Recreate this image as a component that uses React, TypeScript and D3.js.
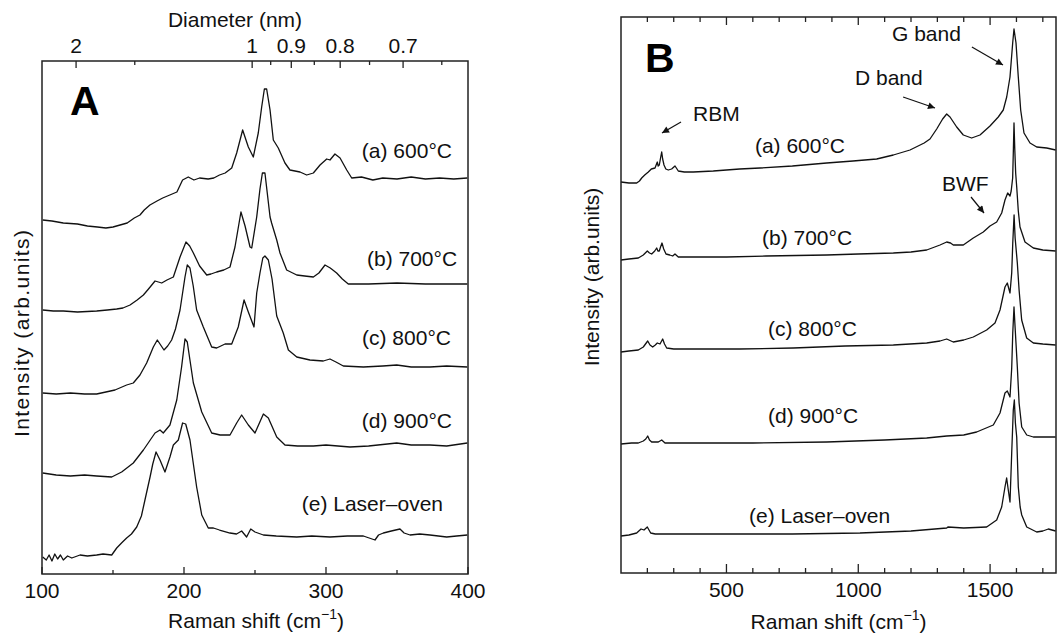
import React from 'react';
import * as d3 from 'd3';

type P = [number, number];

// ---------- Panel A : low-frequency Raman (RBM) spectra, [shift cm-1, intensity arb.] ----------
const specA600: P[] = [[100.5,354],[107,353],[115,351],[125,350],[132,348],[139,347],[145,346],[150,347],[155,349],[160,351],[165,356],[169,359],[172,364],[176,369],[181,373],[185,376],[190,379],[195,382],[199,394],[203,397],[207,394],[211,396],[217,395],[221,396],[225,399],[229,401],[233.6,406],[237.1,421],[241.3,444],[245.3,427],[248.8,417],[252.3,441],[254.7,467],[256.6,485],[258.2,485],[260.6,464],[262.9,434],[266.4,426],[271.1,411],[274.6,404],[281.7,402],[286.4,399],[291.1,401],[295.8,409],[300.5,415],[302.8,414],[306.3,420],[309.9,416],[314.6,404],[318.1,396],[325,397],[333,394],[340,396],[350,395],[360,397],[370,395],[380,396],[390,395],[399.5,396]];
const specA700: P[] = [[100.5,264],[108,263],[115,263],[125,262],[138.5,263],[146,264],[152.6,265],[157,266],[162,269],[167,274],[171.4,279],[175,285],[179.6,293],[184.3,291],[188,294],[192.5,297],[197.2,317],[201.4,332],[204,328],[206.6,321],[211,308],[216,299],[219,300],[223,302],[228,304],[232.4,307],[235.9,327],[240.1,362],[243,348],[246.5,327],[247.7,326],[251.2,357],[253.5,385],[255.2,401],[257,401],[260.6,357],[261.7,351],[265.3,334],[267.6,321],[272.3,304],[279.4,299],[285,298],[291.1,297],[295,301],[299.3,309],[303,306],[307.5,301],[311.5,295],[315.7,290],[330,290],[350,291],[370,290],[399.5,290]];
const specA800: P[] = [[100.5,181],[110,180],[120,181],[130,180],[138.5,180],[145,182],[151.4,184],[159.6,189],[164.3,191],[169,199],[173.7,211],[178.4,227],[181.2,234],[185.9,224],[188.5,228],[191.3,234],[194,245],[197.2,264],[200.7,297],[202.3,309],[204.2,306],[206.5,288],[208.9,264],[213.6,247],[219.5,227],[223,226],[228.9,230],[233.6,230],[238.2,247],[242.3,274],[245.3,262],[249.3,247],[251.2,281],[253.5,301],[255.5,316],[257,318],[259.4,314],[262,295],[265.3,258],[269.9,241],[273.5,224],[279.4,217],[288.7,214],[298.1,213],[302.8,215],[307,212],[312.2,208],[326.3,207],[340,208],[349.8,209],[360,207],[373.2,207],[385,208],[399.5,207]];
const specA900: P[] = [[100.5,101],[110,99],[120,98],[130,99],[138.5,98],[149.1,97],[156.1,102],[164.3,111],[171.4,124],[179.6,141],[183.1,144],[185.4,141],[190.1,149],[194.9,174],[198.3,207],[200.7,235],[202.3,232],[206.6,191],[212.5,162],[219.5,141],[225.4,139],[232.4,139],[237.1,151],[240.6,159],[245.3,149],[250,141],[255.9,160],[259.4,156],[265.3,137],[271.1,129],[280,128],[291.1,128],[300,129],[316.9,127],[330,128],[349.8,131],[360,129],[373.2,129],[385,128],[399.5,131]];
const specALaser: P[] = [[100.5,17],[103,14],[105,19],[107,13],[109,20],[111,15],[113,19],[115,14],[118,18],[121,16],[126.8,19],[132,18],[138.5,19],[143,20],[149.1,19],[152.6,26],[156,31],[159.6,36],[163,40],[166.7,47],[170,58],[172.5,74],[176.1,97],[178,110],[180.3,122],[183.1,114],[186.6,102],[190.1,117],[192.5,129],[196,134],[199,151],[201.2,150],[204.2,134],[208.9,87],[212.5,59],[217.1,46],[220.7,46],[225,44],[232.4,41],[237,40],[240.6,43],[244.1,37],[247,45],[250,42],[255.9,39],[265,38],[279.4,37],[290,38],[302.8,37],[315,38],[326.3,38],[334.5,34],[337,39],[340.4,41],[346,43],[352.1,45],[355,41],[359.2,39],[366,40],[373.2,39],[385,37],[392,38],[399.5,39]];

// ---------- Panel B : full Raman spectra ----------
const specB600: P[] = [[100,391],[130,390],[159.5,390],[170,392],[178.5,395],[190,398],[203.6,401],[215,404],[229,405],[237.7,411],[241,407],[245.3,408],[250,415],[254.4,421],[258,414],[263.1,408],[270,404],[279.4,403],[292,404],[304.8,407],[310,405],[317.3,402],[340,401],[374.2,401],[450,402],[550,404],[627.2,405],[750,407],[880.2,410],[980,412],[1069.9,414],[1133,418],[1196.2,423],[1250,430],[1272,434],[1297.5,444],[1320,454],[1335.4,459],[1348,456],[1373.3,446],[1398.4,438],[1430,435],[1461.7,438],[1499.6,447],[1531,456],[1550,463],[1563,476],[1575.5,496],[1585.7,530],[1590.7,544],[1598.3,530],[1607,496],[1616,463],[1628.6,440],[1651.4,430],[1676.8,426],[1714.7,425],[1748.8,423]];
const specB700: P[] = [[100,313],[130,314],[165.7,315],[184.6,318],[199.8,322],[208,320],[216.4,319],[228,322],[235.4,325],[240,322],[245.3,322],[250,326],[255.5,330],[262,324],[270.7,319],[285,318],[296.1,317],[304.8,319],[317.3,316],[400,316],[500.9,316],[650,317],[880.2,318],[1000,319],[1133,320],[1200,321],[1259.5,323],[1290,326],[1310,328],[1335.4,331],[1350,330],[1360.4,328],[1398.4,328],[1436.3,335],[1474.2,341],[1499.6,347],[1525,351],[1544,360],[1556.5,373],[1566.7,380],[1575.5,377],[1580,382],[1585.6,395],[1588.5,425],[1590.7,450],[1593.5,425],[1597,400],[1601,386],[1607,362],[1613.4,346],[1632.4,331],[1664,325],[1700,323],[1748.8,322]];
const specB800: P[] = [[100,221],[130,222],[165.7,223],[184.6,226],[201.3,232],[210,228],[220.2,226],[230,228],[237.7,230],[247.9,229],[258.1,234],[265,229],[273.3,225],[300,224],[374.2,224],[550,224],[753.6,225],[950,227],[1133,228],[1259.5,230],[1310,232],[1335.4,234],[1360.4,231],[1400,233],[1436.3,236],[1487,243],[1518.6,250],[1537.6,263],[1556.5,286],[1565.3,290],[1575.5,280],[1582,300],[1586,330],[1591,358],[1595,335],[1603.3,310],[1610,283],[1619.8,253],[1638.8,235],[1664,230],[1700,229],[1748.8,228]];
const specB900: P[] = [[100,129],[140,130],[165.7,130],[184.6,132],[194,134],[201.3,137],[208,133],[216.4,131],[241.5,131],[254.4,133],[266.9,130],[374.2,130],[600,130],[880.2,131],[1100,133],[1259.5,135],[1335.4,137],[1400,138],[1449,141],[1512.2,148],[1537.6,160],[1556.5,180],[1565.3,182],[1575.5,176],[1582,205],[1586,240],[1590.7,266],[1595,245],[1603.3,206],[1610,170],[1620,146],[1639,138],[1664,136],[1748.8,136]];
const specBLaser: P[] = [[100,37],[130,38],[159.5,40],[176,44],[187.2,43],[199.8,46],[212.6,40],[230,39],[247.9,39],[500.9,39],[750,39],[1006.5,40],[1200,42],[1335.4,45],[1340,46],[1400,45],[1487,46],[1525,53],[1544,66],[1556.5,86],[1562.8,95],[1569,83],[1575.5,71],[1582,120],[1588,163],[1592,173],[1596,150],[1601,136],[1607,86],[1614,66],[1620,58],[1639,46],[1676.8,41],[1700,42],[1720.9,44],[1748.8,42]];

const spectraA: P[][] = [specA600, specA700, specA800, specA900, specALaser];
const spectraB: P[][] = [specB600, specB700, specB800, specB900, specBLaser];

// sample labels and where they sit (data coordinates)
const sampleLabels = ['(a) 600°C', '(b) 700°C', '(c) 800°C', '(d) 900°C', '(e) Laser–oven'];
const labelAtA: P[] = [[388.7,416],[392.3,308],[388,229],[388.7,146],[382.4,63]];
const labelAtB: P[] = [[608,420],[634.8,328],[657.6,237],[657.6,150],[585.5,50]];

// band annotations in panel B: text, text anchor, arrow from, arrow to
const bandNames = ['G band', 'D band', 'RBM', 'BWF'];
const bandTextAt: P[] = [[1128,532],[987.6,488],[373,452],[1317.6,382]];
const bandArrowFrom: P[] = [[1431,526],[1170,476],[327.6,451],[1427.6,376]];
const bandArrowTo: P[] = [[1549,508],[1291,465],[255.5,440],[1477,360]];

// axes
const ticksAMajor = [100, 200, 300, 400];
const ticksAMinor = [150, 250, 350];
const diamMajor = [2, 1, 0.9, 0.8, 0.7];
const diamMinor = [1.5, 0.95, 0.85, 0.75, 0.65];
const ticksBMajor = [500, 1000, 1500];
const ticksBMinor = [200, 300, 400, 600, 700, 800, 900, 1100, 1200, 1300, 1400, 1600, 1700];
const RBM_CONST = 248; // ω = 248 / d

const FONT = "'Liberation Sans', Arial, Helvetica, sans-serif";
const INK = '#111';

export default function App() {
  const xA = d3.scaleLinear().domain([100, 400]).range([42, 468]);
  const yA = d3.scaleLinear().domain([0, 513]).range([574, 61]);
  const xB = d3.scaleLinear().domain([100, 1750]).range([621, 1056]);
  const yB = d3.scaleLinear().domain([0, 556]).range([573, 17]);
  const lineA = d3.line<P>().x(d => xA(d[0])).y(d => yA(d[1]));
  const lineB = d3.line<P>().x(d => xB(d[0])).y(d => yB(d[1]));

  const [ax0, ax1] = xA.range();
  const [ayB, ayT] = yA.range();
  const [bx0, bx1] = xB.range();
  const [byB, byT] = yB.range();

  return (
    <svg width={1057} height={642} style={{ position: 'fixed', left: 0, top: 0, background: '#fff' }} fontFamily={FONT}>
      <defs>
        <marker id="ah" viewBox="0 0 10 10" refX="10" refY="5" markerWidth="10" markerHeight="7" markerUnits="userSpaceOnUse" orient="auto">
          <path d="M0,0 L10,5 L0,10 z" fill={INK} />
        </marker>
      </defs>
      <rect x={0} y={0} width={1057} height={642} fill="#fff" />

      {/* ---------------- Panel A ---------------- */}
      <g>
        {spectraA.map((s, i) => (
          <path key={i} d={lineA(s) || ''} fill="none" stroke={INK} strokeWidth={1.3} strokeLinejoin="round" />
        ))}
        <rect x={ax0} y={ayT} width={ax1 - ax0} height={ayB - ayT} fill="none" stroke="#222" strokeWidth={1.5} />
        {ticksAMajor.map(t => (
          <g key={'am' + t}>
            <line x1={xA(t)} x2={xA(t)} y1={ayB} y2={ayB - 7} stroke="#222" strokeWidth={1.3} />
            <text x={xA(t)} y={598} fontSize={21} textAnchor="middle" fill={INK}>{t}</text>
          </g>
        ))}
        {ticksAMinor.map(t => (
          <line key={'an' + t} x1={xA(t)} x2={xA(t)} y1={ayB} y2={ayB - 4} stroke="#222" strokeWidth={1.3} />
        ))}
        {diamMajor.map(d => (
          <g key={'dm' + d}>
            <line x1={xA(RBM_CONST / d)} x2={xA(RBM_CONST / d)} y1={ayT} y2={ayT + 7} stroke="#222" strokeWidth={1.3} />
            <text x={xA(RBM_CONST / d)} y={53} fontSize={21} textAnchor="middle" fill={INK}>{d}</text>
          </g>
        ))}
        {diamMinor.map(d => (
          <line key={'dn' + d} x1={xA(RBM_CONST / d)} x2={xA(RBM_CONST / d)} y1={ayT} y2={ayT + 4} stroke="#222" strokeWidth={1.3} />
        ))}
        <text x={235} y={27} fontSize={21} textAnchor="middle" fill={INK}>Diameter (nm)</text>
        <text x={256} y={628} fontSize={21} textAnchor="middle" fill={INK}>
          Raman shift (cm<tspan fontSize={14} dy={-9}>−1</tspan><tspan dy={9}>)</tspan>
        </text>
        <text transform={`translate(29,333.5) rotate(-90)`} fontSize={21} textAnchor="middle" fill={INK} textLength={207} lengthAdjust="spacing">
          Intensity (arb.units)
        </text>
        <text x={70} y={115} fontSize={41} fontWeight="bold" fill="#000">A</text>
        {sampleLabels.map((l, i) => (
          <text key={'la' + i} x={xA(labelAtA[i][0])} y={yA(labelAtA[i][1])} fontSize={21} textAnchor="end" fill={INK}>{l}</text>
        ))}
      </g>

      {/* ---------------- Panel B ---------------- */}
      <g>
        {spectraB.map((s, i) => (
          <path key={i} d={lineB(s) || ''} fill="none" stroke={INK} strokeWidth={1.3} strokeLinejoin="round" />
        ))}
        <rect x={bx0} y={byT} width={bx1 - bx0} height={byB - byT} fill="none" stroke="#222" strokeWidth={1.5} />
        {ticksBMajor.map(t => (
          <g key={'bm' + t}>
            <line x1={xB(t)} x2={xB(t)} y1={byB} y2={byB - 9} stroke="#222" strokeWidth={1.3} />
            <line x1={xB(t)} x2={xB(t)} y1={byT} y2={byT + 8} stroke="#222" strokeWidth={1.3} />
            <text x={xB(t)} y={597} fontSize={21} textAnchor="middle" fill={INK}>{t}</text>
          </g>
        ))}
        {ticksBMinor.map(t => (
          <g key={'bn' + t}>
            <line x1={xB(t)} x2={xB(t)} y1={byB} y2={byB - 5} stroke="#222" strokeWidth={1.3} />
            <line x1={xB(t)} x2={xB(t)} y1={byT} y2={byT + 5} stroke="#222" strokeWidth={1.3} />
          </g>
        ))}
        <text x={(bx0 + bx1) / 2} y={629} fontSize={21} textAnchor="middle" fill={INK}>
          Raman shift (cm<tspan fontSize={14} dy={-9}>−1</tspan><tspan dy={9}>)</tspan>
        </text>
        <text transform={`translate(599,277) rotate(-90)`} fontSize={21} textAnchor="middle" fill={INK}>
          Intensity (arb.units)
        </text>
        <text x={645} y={72} fontSize={41} fontWeight="bold" fill="#000">B</text>
        {sampleLabels.map((l, i) => (
          <text key={'lb' + i} x={xB(labelAtB[i][0])} y={yB(labelAtB[i][1])} fontSize={21} fill={INK}>{l}</text>
        ))}
        {bandNames.map((n, i) => (
          <g key={'bd' + i}>
            <text x={xB(bandTextAt[i][0])} y={yB(bandTextAt[i][1])} fontSize={21} fill={INK}>{n}</text>
            <line x1={xB(bandArrowFrom[i][0])} y1={yB(bandArrowFrom[i][1])} x2={xB(bandArrowTo[i][0])} y2={yB(bandArrowTo[i][1])}
              stroke={INK} strokeWidth={1.2} markerEnd="url(#ah)" />
          </g>
        ))}
      </g>
    </svg>
  );
}
